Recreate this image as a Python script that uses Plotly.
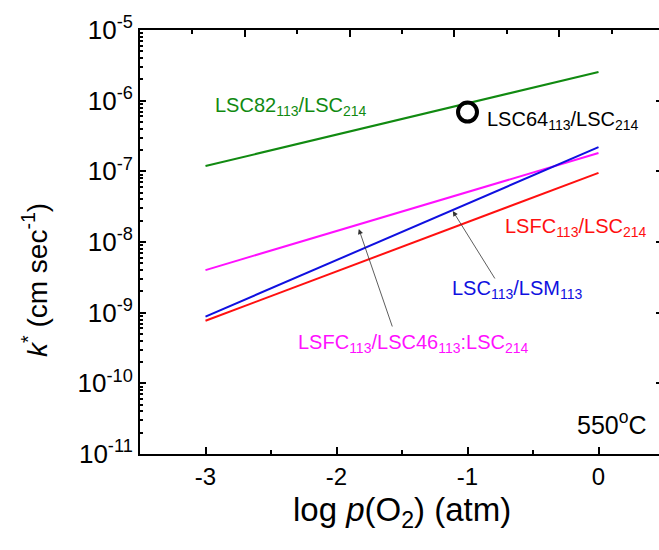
import plotly.graph_objects as go

# Data
x_logp = [-3, 0]
k_lsc82 = [1.19e-7, 2.55e-6]      # LSC82113/LSC214 (green)
k_lsc_lsm = [8.8e-10, 2.2e-7]     # LSC113/LSM113 (blue)
k_lsfc_lsc46 = [4.0e-9, 1.82e-7]  # LSFC113/LSC46113:LSC214 (magenta)
k_lsfc = [7.7e-10, 9.5e-8]        # LSFC113/LSC214 (red)
x_lsc64 = [-1]
k_lsc64 = [6.9e-7]                # LSC64113/LSC214 (open circle)

x_ticks = [-3, -2, -1, 0]
y_ticks = [1e-5, 1e-6, 1e-7, 1e-8, 1e-9, 1e-10, 1e-11]
y_ticktext = ["10<sup>-5</sup>", "10<sup>-6</sup>", "10<sup>-7</sup>", "10<sup>-8</sup>",
              "10<sup>-9</sup>", "10<sup>-10</sup>", "10<sup>-11</sup>"]

FONT = "Arial, Liberation Sans, sans-serif"
GREEN = "#118a11"
BLUE = "#1010e0"
MAGENTA = "#ff10ff"
RED = "#ff1010"

fig = go.Figure()
fig.add_trace(go.Scatter(x=x_logp, y=k_lsc82, mode="lines", line=dict(color=GREEN, width=2)))
fig.add_trace(go.Scatter(x=x_logp, y=k_lsfc_lsc46, mode="lines", line=dict(color=MAGENTA, width=2)))
fig.add_trace(go.Scatter(x=x_logp, y=k_lsc_lsm, mode="lines", line=dict(color=BLUE, width=2)))
fig.add_trace(go.Scatter(x=x_logp, y=k_lsfc, mode="lines", line=dict(color=RED, width=2)))
fig.add_trace(go.Scatter(x=x_lsc64, y=k_lsc64, mode="markers",
                         marker=dict(symbol="circle-open", size=19, color="black",
                                     line=dict(width=4, color="black"))))
# dummy trace for the top / right frame axes
fig.add_trace(go.Scatter(x=[None], y=[None], xaxis="x2", yaxis="y2", hoverinfo="skip"))

L, R, T, B = 140, 659, 30, 454
W, H = 659, 550
px_per_unit = 131.0
x0 = -3.5
x1 = x0 + (R - L) / px_per_unit

fig.update_layout(
    width=W, height=H,
    margin=dict(l=L, r=W - R, t=T, b=H - B),
    paper_bgcolor="white", plot_bgcolor="white",
    showlegend=False,
    font=dict(family=FONT, color="black"),
    xaxis=dict(range=[x0, x1], tickvals=x_ticks, ticktext=[str(v) for v in x_ticks],
               ticks="inside", ticklen=7, tickwidth=2, tickcolor="black",
               minor=dict(dtick=0.5, ticks="inside", ticklen=4, tickwidth=2, tickcolor="black", showgrid=False),
               showline=True, linewidth=2, linecolor="black", showgrid=False, zeroline=False,
               tickfont=dict(size=24, family=FONT), mirror=False),
    yaxis=dict(type="log", range=[-11, -5], tickvals=y_ticks, ticktext=y_ticktext,
               ticks="inside", ticklen=6, tickwidth=2, tickcolor="black",
               minor=dict(dtick="D1", ticks="inside", ticklen=3, tickwidth=1.5, tickcolor="black", showgrid=False),
               showline=True, linewidth=2, linecolor="black", showgrid=False, zeroline=False,
               tickfont=dict(size=26, family=FONT)),
    xaxis2=dict(overlaying="x", side="top", anchor="y", range=[0, (R - L) / 524.0],
                tickvals=[0.2, 0.4, 0.6, 0.8], showticklabels=False,
                ticks="inside", ticklen=7, tickwidth=2, tickcolor="black",
                minor=dict(tickvals=[0.1, 0.3, 0.5, 0.7, 0.9], ticks="inside", ticklen=4,
                           tickwidth=2, tickcolor="black", showgrid=False),
                showline=True, linewidth=2, linecolor="black", showgrid=False, zeroline=False),
    yaxis2=dict(overlaying="y", side="right", anchor="x", type="log", range=[-11, -5],
                tickvals=y_ticks, showticklabels=False,
                ticks="inside", ticklen=3, tickwidth=2, tickcolor="black",
                showline=False, showgrid=False, zeroline=False),
)

def tx(px):
    return -3 + (px - 205.7) / px_per_unit

def ty(py):
    return -5 - (py - 30) / 70.67

ann = []
def label(text, left_px, center_py, color, size=20):
    ann.append(dict(x=tx(left_px), y=ty(center_py), xref="x", yref="y", text=text,
                    showarrow=False, xanchor="left", yanchor="middle",
                    font=dict(size=size, color=color, family=FONT)))

label("LSC82<sub>113</sub>/LSC<sub>214</sub>", 213, 106, GREEN)
label("LSC64<sub>113</sub>/LSC<sub>214</sub>", 485, 120, "black")
label("LSFC<sub>113</sub>/LSC<sub>214</sub>", 503, 228, RED)
label("LSC<sub>113</sub>/LSM<sub>113</sub>", 450, 290, BLUE)
label("LSFC<sub>113</sub>/LSC46<sub>113</sub>:LSC<sub>214</sub>", 296, 344, MAGENTA)
label("550<sup>o</sup>C", 575, 423, "black", size=25)

# arrows
ann.append(dict(x=tx(359), y=ty(229), xref="x", yref="y", ax=34, ay=99, text="",
                showarrow=True, arrowhead=2, arrowsize=1.3, arrowwidth=0.8, arrowcolor="#333333"))
ann.append(dict(x=tx(453), y=ty(211), xref="x", yref="y", ax=43, ay=69, text="",
                showarrow=True, arrowhead=2, arrowsize=1.3, arrowwidth=0.8, arrowcolor="#333333"))

# axis titles
ann.append(dict(x=(402 - L) / (R - L), y=(B - 512) / (B - T), xref="paper", yref="paper",
                text="log <i>p</i>(O<sub>2</sub>) (atm)", showarrow=False,
                xanchor="center", yanchor="middle", font=dict(size=33, family=FONT)))
ann.append(dict(x=(35 - L) / (R - L), y=(B - 280) / (B - T), xref="paper", yref="paper",
                text="<i>k</i><sup>*</sup> (cm sec<sup>-1</sup>)", showarrow=False, textangle=-90,
                xanchor="center", yanchor="middle", font=dict(size=28, family=FONT)))

fig.update_layout(annotations=ann)
fig.write_html("out.html", config={"displayModeBar": False},
               post_script="document.body.style.margin='0';document.body.style.overflow='hidden';")
